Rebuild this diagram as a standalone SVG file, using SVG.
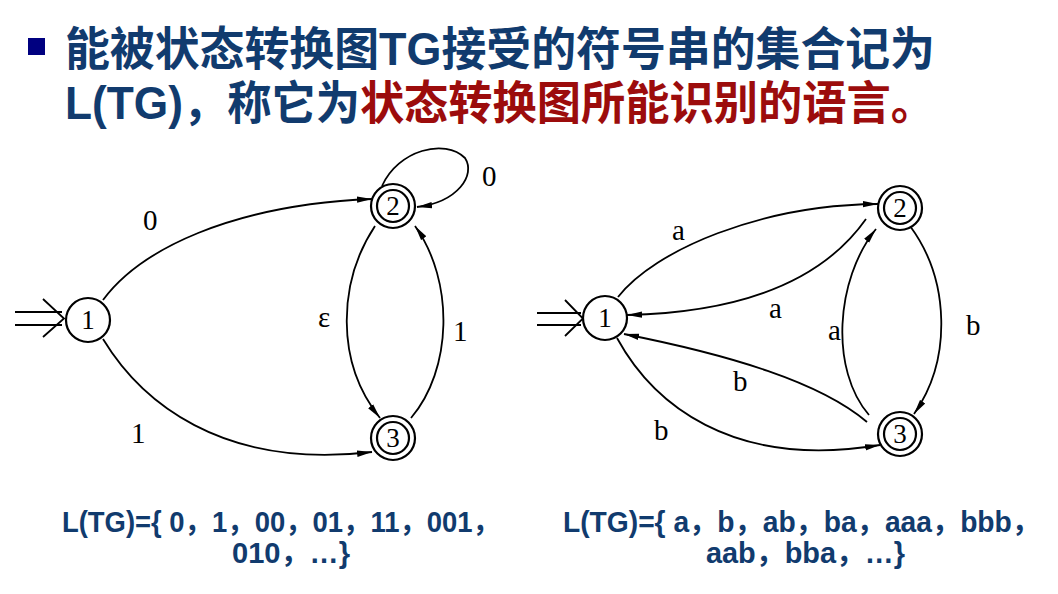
<svg xmlns="http://www.w3.org/2000/svg" width="1058" height="594" viewBox="0 0 1058 594">
<style>
.title{font-family:"Liberation Sans","Noto Sans CJK SC",sans-serif;font-weight:bold;font-size:46px;fill:#113b6e}
.red{fill:#9c0c0c}
.lang{font-family:"Liberation Sans","Noto Sans CJK SC",sans-serif;font-weight:bold;font-size:29px;fill:#113b6e}
.lbl{font-family:"Liberation Serif","Times New Roman",serif;font-size:29px;fill:#000}
.num{font-family:"Liberation Serif","Times New Roman",serif;font-size:27px;fill:#000;text-anchor:middle}
.st{fill:#fff;stroke:#000;stroke-width:2.2}
.e{fill:none;stroke:#000;stroke-width:1.8}
.ea{fill:none;stroke:#000;stroke-width:1.8;marker-end:url(#ah)}
</style>
<defs>
<marker id="ah" markerUnits="userSpaceOnUse" markerWidth="16" markerHeight="8" refX="15" refY="4" orient="auto">
<path d="M0,0.8 L15,4 L0,7.2 Z" fill="#000"/>
</marker>
</defs>
<rect width="1058" height="594" fill="#fff"/>
<rect x="28" y="38" width="17" height="17" fill="#000080"/>
<text class="title" x="65" y="65" textLength="870" lengthAdjust="spacingAndGlyphs">能被状态转换图TG接受的符号串的集合记为</text>
<text class="title" x="65" y="119" textLength="870" lengthAdjust="spacingAndGlyphs">L(TG)，称它为<tspan class="red">状态转换图所能识别的语言。</tspan></text>

<g id="connectors">
<!-- left -->
<path class="e" d="M15,312 H62 M15,325 H62 M43,299 L64,318.5 L43,337"/>
<path class="ea" d="M103,300 C140,250 230,205 372,199"/>
<path class="ea" d="M103,339 C140,400 220,470 372,452"/>
<path class="ea" d="M375,226 C338,282 335,362 380,418"/>
<path class="ea" d="M411,418 C452,370 455,282 415,226"/>
<path class="ea" d="M382,186 C398,150 445,138 465,158 C476,175 458,202 417,207"/>
<!-- right -->
<path class="e" d="M537,313 H581 M537,325 H581 M565,300 L583,318.5 L565,336"/>
<path class="ea" d="M618,297 C655,250 760,205 878,204"/>
<path class="ea" d="M866,219 C830,270 760,312 627,315"/>
<path class="ea" d="M869,415 C830,370 835,280 876,229"/>
<path class="ea" d="M910,226 C950,280 952,360 914,414"/>
<path class="ea" d="M867,422 C820,382 730,355 624,334"/>
<path class="ea" d="M617,338 C652,402 730,470 880,445"/>
</g>

<g id="l-node1"><circle class="st" cx="88" cy="320" r="22"/><text class="num" x="88" y="329">1</text></g>
<g id="l-node2"><circle class="st" cx="393" cy="206" r="22"/><circle class="st" cx="393" cy="206" r="16"/><text class="num" x="393" y="215">2</text></g>
<g id="l-node3"><circle class="st" cx="393" cy="438" r="22"/><circle class="st" cx="393" cy="438" r="16"/><text class="num" x="393" y="447">3</text></g>

<g id="r-node1"><circle class="st" cx="605" cy="318" r="22"/><text class="num" x="605" y="327">1</text></g>
<g id="r-node2"><circle class="st" cx="900" cy="208" r="22"/><circle class="st" cx="900" cy="208" r="16"/><text class="num" x="900" y="217">2</text></g>
<g id="r-node3"><circle class="st" cx="900" cy="434" r="22"/><circle class="st" cx="900" cy="434" r="16"/><text class="num" x="900" y="443">3</text></g>

<g id="labels">
<text class="lbl" x="143" y="230">0</text>
<text class="lbl" x="482" y="186">0</text>
<text class="lbl" x="318" y="327">ε</text>
<text class="lbl" x="453" y="341">1</text>
<text class="lbl" x="131" y="443">1</text>
<text class="lbl" x="672" y="240">a</text>
<text class="lbl" x="769" y="318">a</text>
<text class="lbl" x="828" y="340">a</text>
<text class="lbl" x="966" y="335">b</text>
<text class="lbl" x="733" y="391">b</text>
<text class="lbl" x="654" y="440">b</text>
</g>

<text class="lang" x="62" y="532" textLength="438" lengthAdjust="spacingAndGlyphs">L(TG)={ 0，1，00，01，11，001，</text>
<text class="lang" x="232" y="563" textLength="118" lengthAdjust="spacingAndGlyphs">010，…}</text>
<text class="lang" x="563" y="532" textLength="477" lengthAdjust="spacingAndGlyphs">L(TG)={ a，b，ab，ba，aaa，bbb，</text>
<text class="lang" x="706" y="563" textLength="199" lengthAdjust="spacingAndGlyphs">aab，bba，…}</text>
</svg>
